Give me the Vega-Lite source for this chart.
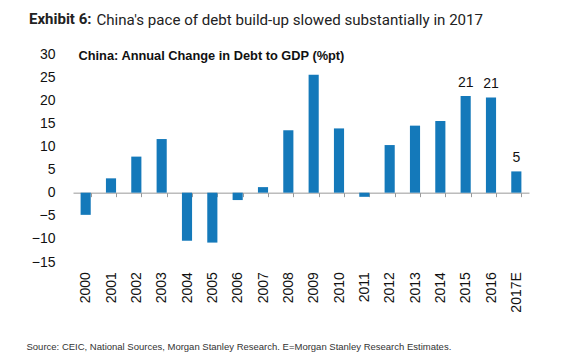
{
  "$schema": "https://vega.github.io/schema/vega-lite/v6.json",
  "width": 456,
  "height": 208,
  "autosize": "none",
  "padding": {"left": 73, "top": 54, "right": 41, "bottom": 93},
  "background": "white",
  "config": {"view": {"stroke": null}, "font": "Liberation Sans"},
  "title": {
    "text": "Exhibit 6:",
    "subtitle": "\u200b\u00a0\u00a0\u00a0\u00a0\u00a0\u00a0\u00a0\u00a0\u00a0\u00a0\u00a0\u00a0\u00a0\u00a0\u00a0\u00a0\u00a0\u00a0China's pace of debt build-up slowed substantially in 2017",
    "anchor": "start",
    "frame": "group",
    "dx": -44,
    "font": "Roboto",
    "fontSize": 15,
    "fontWeight": "bold",
    "color": "#222",
    "subtitleFont": "Roboto",
    "subtitleFontSize": 15.1,
    "subtitleFontWeight": "normal",
    "subtitleColor": "#222",
    "subtitlePadding": -14,
    "offset": 19
  },
  "data": {
    "values": [
      {"year": "2000", "value": -4.8},
      {"year": "2001", "value": 3.1},
      {"year": "2002", "value": 7.8},
      {"year": "2003", "value": 11.6},
      {"year": "2004", "value": -10.4},
      {"year": "2005", "value": -10.8},
      {"year": "2006", "value": -1.6},
      {"year": "2007", "value": 1.2},
      {"year": "2008", "value": 13.5},
      {"year": "2009", "value": 25.5},
      {"year": "2010", "value": 13.9},
      {"year": "2011", "value": -0.9},
      {"year": "2012", "value": 10.3},
      {"year": "2013", "value": 14.5},
      {"year": "2014", "value": 15.5},
      {"year": "2015", "value": 20.9},
      {"year": "2016", "value": 20.6},
      {"year": "2017E", "value": 4.6}
    ]
  },
  "encoding": {
    "x": {
      "field": "year",
      "type": "nominal",
      "sort": null,
      "scale": {"paddingInner": 0.6, "paddingOuter": 0.3},
      "axis": {
        "orient": "bottom",
        "offset": -69.33,
        "domainColor": "#9a9a9a",
        "tickColor": "#9a9a9a",
        "tickSize": 4,
        "tickBand": "extent",
        "labelAngle": -90,
        "labelPadding": 75,
        "labelFontSize": 14,
        "labelColor": "#111",
        "title": "Source: CEIC, National Sources, Morgan Stanley Research. E=Morgan Stanley Research Estimates.",
        "titleX": -47,
        "titleY": 154,
        "titleAlign": "left",
        "titleBaseline": "middle",
        "titleFontSize": 9.5,
        "titleFontWeight": "normal",
        "titleColor": "#333"
      }
    },
    "y": {
      "field": "value",
      "type": "quantitative",
      "scale": {"domain": [-15, 30], "nice": false, "zero": false},
      "axis": {
        "values": [-15, -10, -5, 0, 5, 10, 15, 20, 25, 30],
        "domain": false,
        "ticks": false,
        "grid": false,
        "labelPadding": 18,
        "labelFontSize": 14,
        "labelColor": "#111",
        "title": "China: Annual Change in Debt to GDP (%pt)",
        "titleAngle": 0,
        "titleAlign": "left",
        "titleBaseline": "middle",
        "titleX": 5,
        "titleY": 1,
        "titleFontSize": 12.8,
        "titleFontWeight": "bold",
        "titleColor": "#111"
      }
    }
  },
  "layer": [
    {"mark": {"type": "bar", "color": "#1479BA"}},
    {
      "transform": [{"filter": {"field": "year", "oneOf": ["2015", "2016", "2017E"]}}],
      "mark": {"type": "text", "baseline": "bottom", "dy": -6, "fontSize": 14, "color": "#111"},
      "encoding": {"text": {"field": "value", "type": "quantitative", "format": ".0f"}}
    }
  ]
}
